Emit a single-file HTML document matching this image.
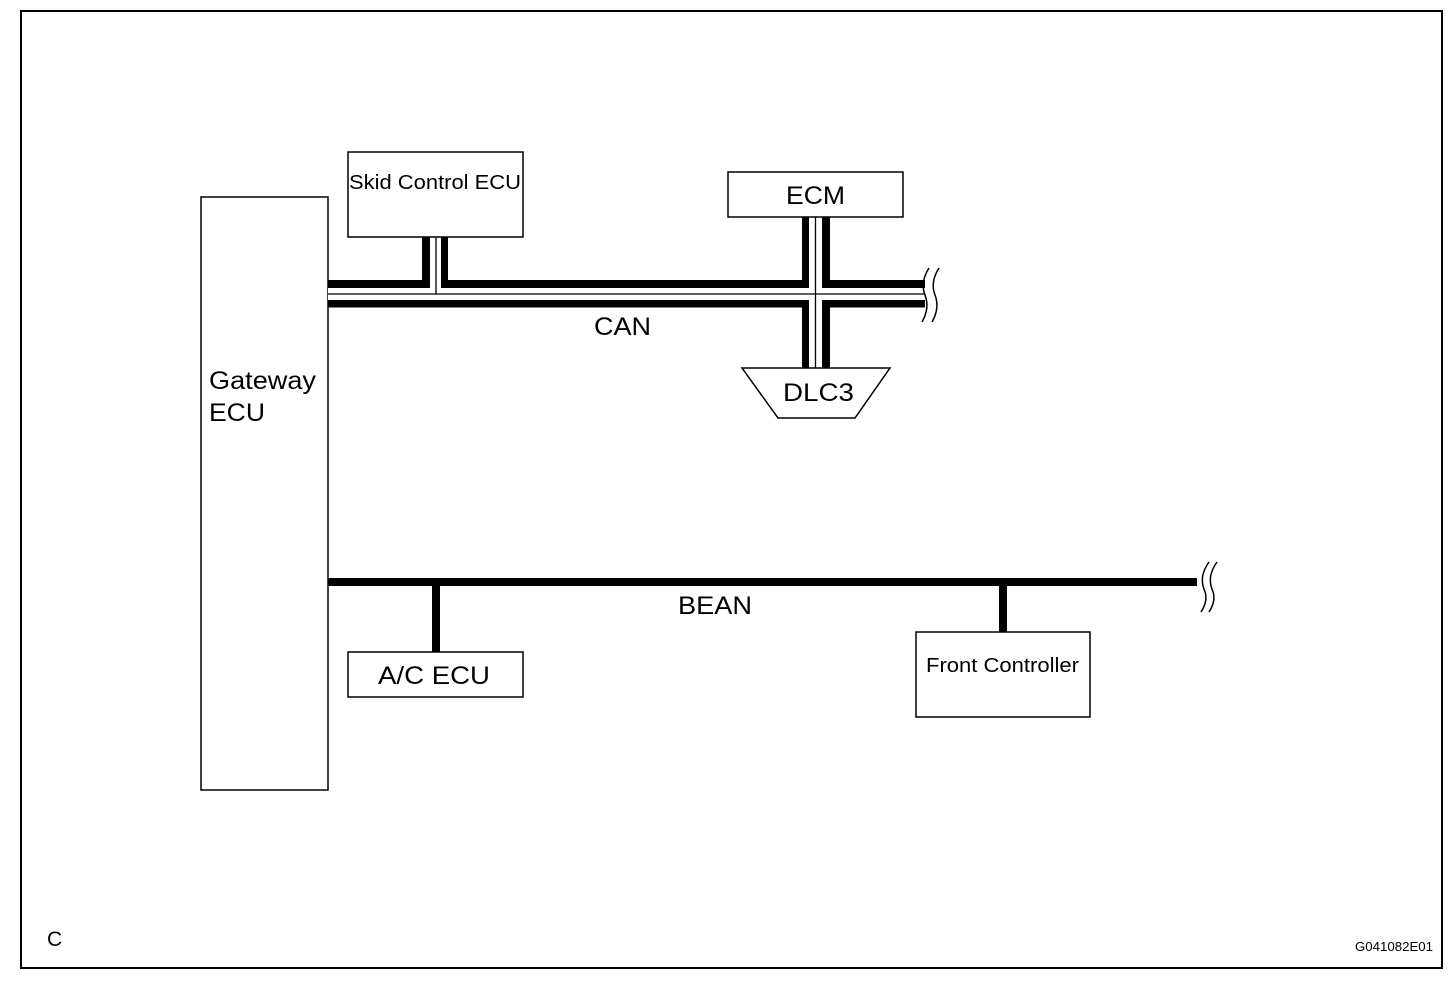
<!DOCTYPE html>
<html><head><meta charset="utf-8"><style>
html,body{margin:0;padding:0;background:#fff;}
svg{display:block;}
text{font-family:"Liberation Sans",Arial,sans-serif;fill:#000;}
</style></head><body>
<svg width="1456" height="982" viewBox="0 0 1456 982" xmlns="http://www.w3.org/2000/svg">
<rect x="0" y="0" width="1456" height="982" fill="#fff"/>
<rect x="21" y="11" width="1421" height="957" fill="none" stroke="#000" stroke-width="2"/>

<!-- Gateway -->
<rect x="201" y="197" width="127" height="593" fill="none" stroke="#000" stroke-width="1.5"/>
<text x="209" y="389" font-size="25" textLength="107" lengthAdjust="spacingAndGlyphs">Gateway</text>
<text x="209" y="421" font-size="25" textLength="56" lengthAdjust="spacingAndGlyphs">ECU</text>

<!-- CAN bus -->
<rect x="328" y="280" width="597" height="8" fill="#000"/>
<rect x="328" y="300" width="597" height="7.5" fill="#000"/>
<rect x="422" y="237" width="26" height="51" fill="#000"/>
<rect x="802" y="217" width="28" height="151" fill="#000"/>
<rect x="328" y="288" width="597" height="12" fill="#fff"/>
<rect x="430" y="237" width="11" height="57" fill="#fff"/>
<rect x="809" y="217" width="13" height="151" fill="#fff"/>
<line x1="328" y1="294" x2="925" y2="294" stroke="#000" stroke-width="1.3"/>
<line x1="436" y1="237" x2="436" y2="294" stroke="#000" stroke-width="1.3"/>
<line x1="815.5" y1="217" x2="815.5" y2="368" stroke="#000" stroke-width="1.3"/>
<path d="M929 268 Q920 282 925 295 Q930 308 922 322" fill="none" stroke="#000" stroke-width="1.5"/>
<path d="M939 268 Q930 282 935 295 Q940 308 932 322" fill="none" stroke="#000" stroke-width="1.5"/>
<text x="594" y="335" font-size="25" textLength="57" lengthAdjust="spacingAndGlyphs">CAN</text>

<!-- Skid -->
<rect x="348" y="152" width="175" height="85" fill="#fff" stroke="#000" stroke-width="1.5"/>
<text x="349" y="189" font-size="20" textLength="172" lengthAdjust="spacingAndGlyphs">Skid Control ECU</text>

<!-- ECM -->
<rect x="728" y="172" width="175" height="45" fill="#fff" stroke="#000" stroke-width="1.5"/>
<text x="786" y="204" font-size="25" textLength="59" lengthAdjust="spacingAndGlyphs">ECM</text>

<!-- DLC3 -->
<polygon points="742,368 890,368 855,418 778,418" fill="#fff" stroke="#000" stroke-width="1.5"/>
<text x="783" y="401" font-size="25" textLength="71" lengthAdjust="spacingAndGlyphs">DLC3</text>

<!-- BEAN -->
<rect x="328" y="578" width="869" height="8" fill="#000"/>
<rect x="432" y="586" width="8" height="66" fill="#000"/>
<rect x="999" y="586" width="8" height="46" fill="#000"/>
<path d="M1209 562 Q1199 576 1204 589 Q1209 600 1201 612" fill="none" stroke="#000" stroke-width="1.5"/>
<path d="M1217 562 Q1207 576 1212 589 Q1217 600 1209 612" fill="none" stroke="#000" stroke-width="1.5"/>
<text x="678" y="614" font-size="25" textLength="74" lengthAdjust="spacingAndGlyphs">BEAN</text>

<rect x="348" y="652" width="175" height="45" fill="#fff" stroke="#000" stroke-width="1.5"/>
<text x="378" y="684" font-size="25" textLength="112" lengthAdjust="spacingAndGlyphs">A/C ECU</text>

<rect x="916" y="632" width="174" height="85" fill="#fff" stroke="#000" stroke-width="1.5"/>
<text x="926" y="672" font-size="20" textLength="153" lengthAdjust="spacingAndGlyphs">Front Controller</text>

<text x="47" y="946" font-size="21">C</text>
<text x="1355" y="951" font-size="12.5" textLength="78" lengthAdjust="spacingAndGlyphs">G041082E01</text>
</svg>
</body></html>
